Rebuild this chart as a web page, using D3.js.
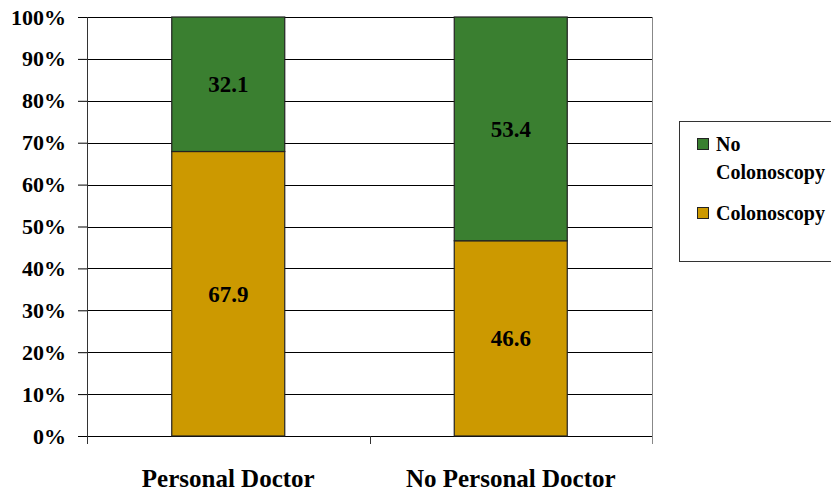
<!DOCTYPE html>
<html>
<head>
<meta charset="utf-8">
<script src="https://cdn.jsdelivr.net/npm/d3@7/dist/d3.min.js"></script>
<style>
  html, body { margin: 0; padding: 0; background: #fff; }
  svg { display: block; }
</style>
</head>
<body>
<svg id="chart" width="831" height="494"></svg>
<script>
// Colonoscopy screening by having a personal doctor (percent)
const categories = ["Personal Doctor", "No Personal Doctor"];
const colonoscopy = [67.9, 46.6];
const noColonoscopy = [32.1, 53.4];
const yTicks = [0, 10, 20, 30, 40, 50, 60, 70, 80, 90, 100];
const seriesNames = ["No Colonoscopy", "Colonoscopy"];

const colors = { "Colonoscopy": "#cc9900", "No Colonoscopy": "#3a7f30" };
const FONT = '"Liberation Serif"';

// apply the serif label font to a text selection
function serif(sel, size) {
  sel.style("font-family", FONT).style("font-weight", "bold")
     .style("font-size", size + "px").attr("fill", "#000");
}

const svg = d3.select("#chart");
const m = { left: 87, right: 652, top: 17, bottom: 436 };

const x = d3.scaleBand().domain(categories).range([m.left, m.right]).paddingInner(0).paddingOuter(0);
const y = d3.scaleLinear().domain([0, 100]).range([m.bottom, m.top]);

// horizontal gridlines
svg.append("g").selectAll("line").data(yTicks.filter(d => d > 0)).join("line")
  .attr("x1", m.left).attr("x2", m.right)
  .attr("y1", d => Math.round(y(d)) + 0.5).attr("y2", d => Math.round(y(d)) + 0.5)
  .attr("stroke", "#000").attr("stroke-width", 1);

// y axis
const yAxis = svg.append("g").attr("transform", `translate(${m.left},0)`)
  .call(d3.axisLeft(y).tickValues(yTicks).tickFormat(d => d + "%").tickSize(9).tickPadding(12));
yAxis.attr("font-family", null).attr("font-size", null);
yAxis.select(".domain").attr("stroke", "#333");
yAxis.selectAll(".tick line").attr("stroke", "#000");
serif(yAxis.selectAll("text"), 22);

// x axis with boundary ticks between categories
const xAxisG = svg.append("g");
xAxisG.append("line").attr("x1", m.left).attr("x2", m.right).attr("y1", m.bottom + 0.5).attr("y2", m.bottom + 0.5)
  .attr("stroke", "#000");
const bounds = categories.map(c => x(c)).concat([x(categories[categories.length - 1]) + x.bandwidth()]);
xAxisG.selectAll("line.bt").data(bounds).join("line").attr("class", "bt")
  .attr("x1", d => Math.round(d) + 0.5).attr("x2", d => Math.round(d) + 0.5)
  .attr("y1", m.bottom).attr("y2", m.bottom + 8)
  .attr("stroke", "#333");
xAxisG.selectAll("text").data(categories).join("text")
  .attr("x", d => x(d) + x.bandwidth() / 2).attr("y", 487)
  .attr("text-anchor", "middle").text(d => d)
  .call(serif, 25);

// right border of plot
svg.append("line").attr("x1", m.right + 0.5).attr("x2", m.right + 0.5).attr("y1", m.top).attr("y2", m.bottom + 8)
  .attr("stroke", "#888");

// stacked bars
const rows = categories.map((c, i) => ({ cat: c, "Colonoscopy": colonoscopy[i], "No Colonoscopy": noColonoscopy[i] }));
const stack = d3.stack().keys(["Colonoscopy", "No Colonoscopy"])(rows);
const barW = x.bandwidth() * 0.4;

stack.forEach(layer => {
  const g = svg.append("g");
  g.selectAll("rect").data(layer).join("rect")
    .attr("x", d => x(d.data.cat) + (x.bandwidth() - barW) / 2)
    .attr("width", barW)
    .attr("y", d => y(d[1]))
    .attr("height", d => y(d[0]) - y(d[1]))
    .attr("fill", colors[layer.key])
    .attr("stroke", "#222").attr("stroke-width", 1.2);
  g.selectAll("text").data(layer).join("text")
    .attr("x", d => x(d.data.cat) + x.bandwidth() / 2)
    .attr("y", d => (y(d[0]) + y(d[1])) / 2 + 8)
    .attr("text-anchor", "middle")
    .text(d => d.data[layer.key].toFixed(1))
    .call(serif, 23);
});

// legend
const lg = svg.append("g");
lg.append("rect").attr("x", 679.5).attr("y", 121.5).attr("width", 160).attr("height", 140)
  .attr("fill", "#fff").attr("stroke", "#333");
const legendItems = [
  { name: seriesNames[0], lines: ["No", "Colonoscopy"], y: 138 },
  { name: seriesNames[1], lines: ["Colonoscopy"], y: 207 }
];
legendItems.forEach(it => {
  lg.append("rect").attr("x", 697.5).attr("y", it.y + 0.5).attr("width", 11).attr("height", 11)
    .attr("fill", colors[it.name]).attr("stroke", "#222");
  const t = lg.append("text").attr("x", 716).attr("y", it.y + 13).call(serif, 20);
  it.lines.forEach((l, i) => t.append("tspan").attr("x", 716).attr("dy", i === 0 ? 0 : 28).text(l));
});
</script>
</body>
</html>
